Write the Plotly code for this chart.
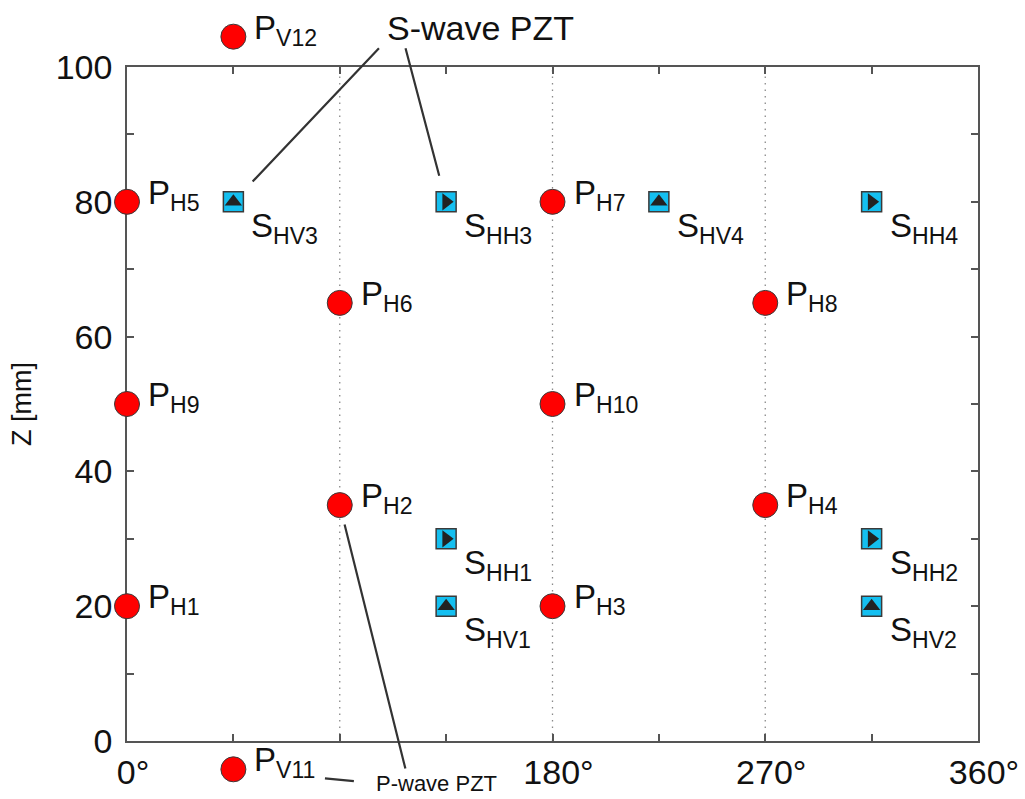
import plotly.graph_objects as go

# P-wave transducers: angular position (deg) and height Z (mm)
p_names = ["H1", "H2", "H3", "H4", "H5", "H6", "H7", "H8", "H9", "H10", "V11", "V12"]
p_theta = [0, 90, 180, 270, 0, 90, 180, 270, 0, 180, 45, 45]
p_z = [20, 35, 20, 35, 80, 65, 80, 65, 50, 50, -4.2, 104.5]

# S-wave transducers (HV = vertical polarisation, HH = horizontal polarisation)
s_names = ["HV3", "HH3", "HV4", "HH4", "HH1", "HV1", "HH2", "HV2"]
s_theta = [45, 135, 225, 315, 135, 135, 315, 315]
s_z = [80, 80, 80, 80, 30, 20, 30, 20]

x_tickvals = [0, 45, 90, 135, 180, 225, 270, 315, 360]
x_ticktext = ["0°", "", "", "", "180°", "", "270°", "", "360°"]
y_tickvals = list(range(0, 101, 10))
y_ticktext = [str(v) if v % 20 == 0 else "" for v in y_tickvals]
grid_theta = [90, 180, 270]

X_RANGE = [0, 360]
Y_RANGE = [0, 100]

# page and frame geometry (pixels)
W, H = 1025, 799
BOX_L, BOX_R, BOX_T, BOX_B = 127, 978, 67, 741

FONT = "Liberation Sans, Arial, sans-serif"
INK = "#222222"
AXIS = "#555555"
TXT = "#111111"

# a full-page overlay subplot shares the frame's scale, so marks placed
# just outside the frame (top/bottom transducers, call-outs) stay visible
kx = (BOX_R - BOX_L) / (X_RANGE[1] - X_RANGE[0])
ky = (BOX_B - BOX_T) / (Y_RANGE[1] - Y_RANGE[0])
x2_range = [X_RANGE[0] - BOX_L / kx, X_RANGE[1] + (W - BOX_R) / kx]
y2_range = [Y_RANGE[0] - (H - BOX_B) / ky, Y_RANGE[1] + BOX_T / ky]

fig = go.Figure()

# dotted guides at 90/180/270 degrees
gx, gy = [], []
for g in grid_theta:
    gx += [g, g, None]
    gy += [Y_RANGE[0], Y_RANGE[1], None]
fig.add_trace(go.Scatter(x=gx, y=gy, mode="lines", xaxis="x", yaxis="y",
                         line=dict(color="#8a8a8a", width=1.3, dash="1.5px,5px"),
                         hoverinfo="skip", showlegend=False))

# S-wave squares with polarisation arrows
fig.add_trace(go.Scatter(x=s_theta, y=s_z, mode="markers", xaxis="x2", yaxis="y2",
                         marker=dict(symbol="square", size=20, color="#14bff0",
                                     line=dict(color="#3a3a3a", width=1.5)),
                         showlegend=False))
sym = ["triangle-up" if n.startswith("HV") else "triangle-right" for n in s_names]
fig.add_trace(go.Scatter(x=s_theta, y=s_z, mode="markers", xaxis="x2", yaxis="y2",
                         marker=dict(symbol=sym, size=15, color=INK, line=dict(width=0)),
                         showlegend=False))

# P-wave circles
fig.add_trace(go.Scatter(x=p_theta, y=p_z, mode="markers", xaxis="x2", yaxis="y2",
                         marker=dict(symbol="circle", size=25, color="#ff0000",
                                     line=dict(color="#3a3a3a", width=1)),
                         showlegend=False))

annotations = []
for n, t, z in zip(p_names, p_theta, p_z):
    annotations.append(dict(x=t, y=z, xref="x2", yref="y2", text=f"P<sub>{n}</sub>",
                            showarrow=False, xanchor="left", yanchor="middle",
                            xshift=19, yshift=7,
                            font=dict(family=FONT, size=33, color=TXT)))
for n, t, z in zip(s_names, s_theta, s_z):
    annotations.append(dict(x=t, y=z, xref="x2", yref="y2", text=f"S<sub>{n}</sub>",
                            showarrow=False, xanchor="left", yanchor="middle",
                            xshift=16, yshift=-26,
                            font=dict(family=FONT, size=33, color=TXT)))

# leader lines for the transducer call-outs
lead = dict(showarrow=True, arrowhead=0, arrowwidth=2.2, arrowcolor="#333333",
            text="", xref="x2", yref="y2", axref="pixel", ayref="pixel")
annotations.append(dict(lead, x=s_theta[0], y=s_z[0], ax=147, ay=-155, standoff=28))
annotations.append(dict(lead, x=s_theta[1], y=s_z[1], ax=-41, ay=-155, standoff=27))
annotations.append(dict(lead, x=p_theta[1], y=p_z[1], ax=66, ay=265, standoff=20))
annotations.append(dict(lead, x=p_theta[10], y=p_z[10], ax=122, ay=12, standoff=92))

annotations.append(dict(x=149.4, y=105.8, xref="x2", yref="y2", text="S-wave PZT",
                        showarrow=False, xanchor="center", yanchor="middle",
                        font=dict(family=FONT, size=34, color=TXT)))
annotations.append(dict(x=131, y=-6.3, xref="x2", yref="y2", text="P-wave PZT",
                        showarrow=False, xanchor="center", yanchor="middle",
                        font=dict(family=FONT, size=22, color=TXT)))

frame = dict(showgrid=False, zeroline=False, showline=True, linecolor=AXIS,
             linewidth=1.5, mirror="ticks", ticks="inside", ticklen=7,
             tickcolor=AXIS, tickwidth=1.5, automargin=False,
             tickfont=dict(family=FONT, size=34, color=TXT))

fig.update_layout(
    width=W, height=H, autosize=False,
    margin=dict(l=0, r=0, t=0, b=0, pad=0, autoexpand=False),
    paper_bgcolor="white", plot_bgcolor="rgba(0,0,0,0)",
    font=dict(family=FONT, color=TXT),
    annotations=annotations,
    xaxis=dict(frame, range=X_RANGE, domain=[BOX_L / W, BOX_R / W], anchor="y",
               tickvals=x_tickvals, ticktext=x_ticktext, ticklabelshift=6),
    yaxis=dict(frame, range=Y_RANGE, domain=[(H - BOX_B) / H, (H - BOX_T) / H],
               anchor="x", tickvals=y_tickvals, ticktext=y_ticktext,
               ticklabelstandoff=6,
               title=dict(text="Z [mm]", font=dict(family=FONT, size=27, color=TXT),
                          standoff=16)),
    xaxis2=dict(range=x2_range, domain=[0, 1], anchor="y2", visible=False,
                automargin=False),
    yaxis2=dict(range=y2_range, domain=[0, 1], anchor="x2", visible=False,
                automargin=False),
)

fig.write_html("out.html")
